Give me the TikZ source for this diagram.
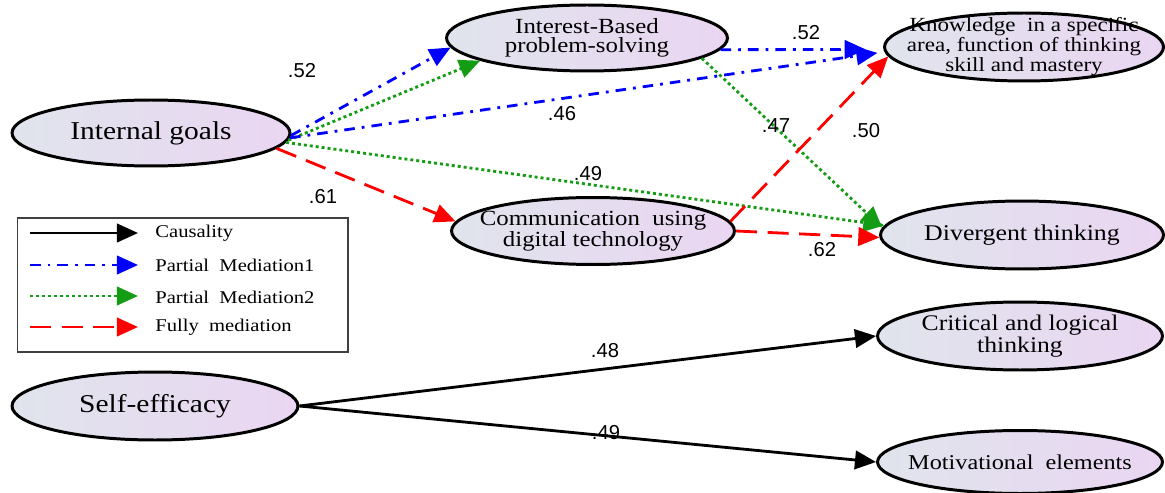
\documentclass[tikz,border=0pt]{standalone}
\usepackage{fontspec}
\setmainfont{Liberation Serif}
\newfontfamily\boxfont[FakeStretch=1.15]{Liberation Serif}
\newfontfamily\numfont{Liberation Sans}
\usetikzlibrary{shapes.geometric,arrows.meta}

\definecolor{fillL}{HTML}{E0E4EC}
\definecolor{fillR}{HTML}{EAD6F2}
\definecolor{pmblue}{HTML}{0000FF}
\definecolor{pmgreen}{HTML}{149C14}
\definecolor{fmred}{HTML}{FF0000}

\begin{document}
\begin{tikzpicture}[x=0.02cm,y=-0.02cm,
  construct/.style={ellipse, draw=black, line width=1.7pt,
    left color=fillL, right color=fillR, inner sep=0pt},
  ctext/.style={align=center, inner sep=0pt, text=black},
  arr/.style={-{Triangle[length=12pt,width=10.5pt]}, line width=1.6pt},
  causal/.style={arr, draw=black},
  partialA/.style={arr, draw=pmblue, dash pattern=on 6pt off 4pt on 1.6pt off 4pt},
  partialB/.style={arr, draw=pmgreen, dash pattern=on 1.7pt off 1.7pt},
  fully/.style={arr, draw=fmred, dash pattern=on 12pt off 6pt},
  coef/.style={font=\numfont\fontsize{11.5}{12}\selectfont, inner sep=1pt},
  legtext/.style={font=\boxfont\fontsize{10.2}{12}\selectfont, anchor=west, inner sep=0pt}
]
\useasboundingbox (0,0) rectangle (1165,493);

% constructs
\node[construct, minimum width=5.56cm, minimum height=1.32cm,
  label={[ctext, font=\boxfont\fontsize{14.6}{15}\selectfont]center:Internal goals}]
  (ig) at (151,133) {};
\node[construct, minimum width=5.62cm, minimum height=1.32cm,
  label={[ctext, font=\boxfont\fontsize{12.3}{10.8}\selectfont]center:Interest-Based\\problem-solving}]
  (ib) at (587,38) {};
\node[construct, minimum width=5.58cm, minimum height=1.36cm,
  label={[ctext, font=\boxfont\fontsize{11.4}{9.8}\selectfont]center:Knowledge\ \ in\ a specific\\area,\ function\ of thinking\\skill\ and mastery}]
  (kn) at (1024,47) {};
\node[construct, minimum width=5.66cm, minimum height=1.34cm,
  label={[ctext, font=\boxfont\fontsize{12.3}{10.8}\selectfont]center:Communication\ \ using\\digital\ technology}]
  (cm) at (593,231) {};
\node[construct, minimum width=5.66cm, minimum height=1.36cm,
  label={[ctext, font=\boxfont\fontsize{12.8}{15}\selectfont]center:Divergent\ thinking}]
  (dv) at (1022,235) {};
\node[construct, minimum width=5.70cm, minimum height=1.36cm,
  label={[ctext, font=\boxfont\fontsize{12.7}{10.6}\selectfont]center:Critical and logical\\thinking}]
  (cr) at (1020,336) {};
\node[construct, minimum width=5.70cm, minimum height=1.26cm,
  label={[ctext, font=\boxfont\fontsize{12}{14}\selectfont]center:Motivational\ \ elements}]
  (mo) at (1020,462) {};
\node[construct, minimum width=5.72cm, minimum height=1.36cm,
  label={[ctext, font=\boxfont\fontsize{14.6}{15}\selectfont]center:Self-efficacy}]
  (se) at (155,406) {};

% paths
\draw[partialA] (ig.-1) -- (ib.184);
\draw[partialB] (ig.-3) -- (ib.192);
\draw[partialA, shorten >=4pt] (ig.-2) -- (kn.182);
\draw[partialA, shorten >=10pt] (ib.-5) -- (kn.181);
\draw[partialB] (ib.-10) -- (dv.177);
\draw[partialB] (ig.-4) -- (dv.176);
\draw[fully] (ig.-7) -- (cm.176);
\draw[fully] (cm.4) -- (kn.184);
\draw[fully] (cm.east) -- (dv.181);
\draw[causal] (se.east) -- (cr.west);
\draw[causal] (se.east) -- (mo.west);

% coefficients
\node[coef] (c1) at (302,71) {.52};
\node[coef] (c2) at (562,114) {.46};
\node[coef] (c3) at (806,33) {.52};
\node[coef] (c4) at (776,126) {.47};
\node[coef] (c5) at (866,131) {.50};
\node[coef] (c6) at (588,174) {.49};
\node[coef] (c7) at (323,197) {.61};
\node[coef] (c8) at (822,250) {.62};
\node[coef] (c9) at (605,351) {.48};
\node[coef] (c10) at (606,433) {.49};

% legend
\node[draw=black!75, line width=0.6pt, minimum width=6.62cm, minimum height=2.68cm,
  inner sep=0pt] (leg) at (182.5,285) {};
\coordinate (la1) at (30,233);  \coordinate (lb1) at (138,233);
\coordinate (la2) at (30,265);  \coordinate (lb2) at (138,265);
\coordinate (la3) at (30,296);  \coordinate (lb3) at (138,296);
\coordinate (la4) at (30,327);  \coordinate (lb4) at (138,327);
\draw[causal] (la1) -- (lb1);
\draw[partialA] (la2) -- (lb2);
\draw[partialB] (la3) -- (lb3);
\draw[fully] (la4) -- (lb4);
\node[legtext] (t1) at (155,233) {Causality};
\node[legtext] (t2) at (155,265) {Partial\ \ Mediation1};
\node[legtext] (t3) at (155,297) {Partial\ \ Mediation2};
\node[legtext] (t4) at (155,327) {Fully\ \ mediation};
\end{tikzpicture}
\end{document}
